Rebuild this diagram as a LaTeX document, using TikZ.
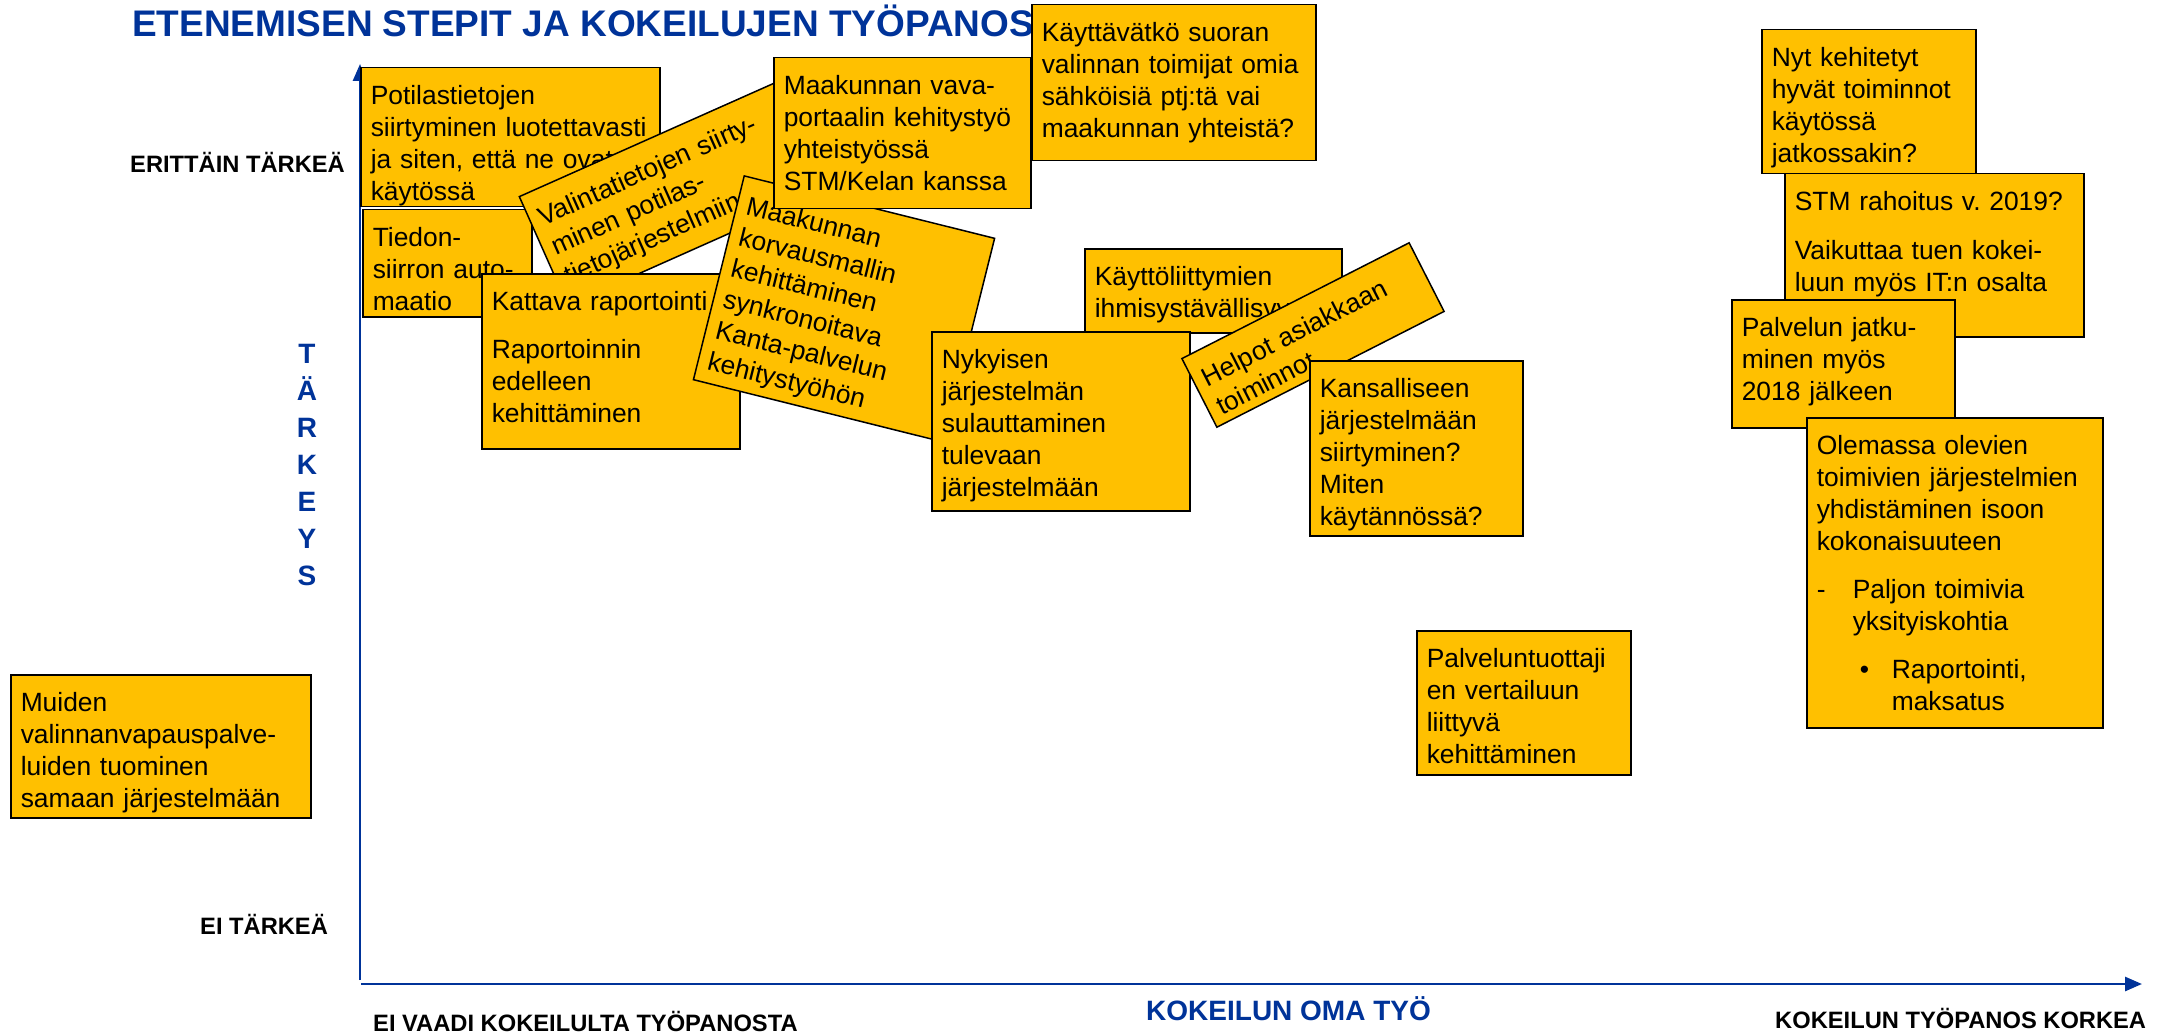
\documentclass[tikz,border=0pt]{standalone}
\usepackage{fontspec}
\setmainfont{Liberation Sans}
\usepackage{tikz}
\usetikzlibrary{arrows.meta}
\frenchspacing

\definecolor{cardorange}{RGB}{255,192,0}
\definecolor{axisblue}{RGB}{0,51,153}

\newcommand{\cardfont}{\fontsize{26.4}{32}\selectfont}
\newcommand{\polefont}{\fontsize{23.7}{28}\selectfont\bfseries}
\newcommand{\axisfont}{\fontsize{28}{34}\selectfont\bfseries}
\newcommand{\titlefont}{\fontsize{37}{44}\selectfont\bfseries}

\tikzset{
  card/.style={rectangle, draw=black, line width=1.5pt, fill=cardorange, inner xsep=10pt, inner ysep=0pt, text height=37pt, align=left, font=\cardfont},
  polelabel/.style={anchor=base west, inner sep=0pt, font=\polefont},
  axislabel/.style={anchor=base west, inner sep=0pt, text=axisblue, font=\axisfont},
  axisline/.style={draw=axisblue, line width=2.7pt},
}

\begin{document}
\begin{tikzpicture}[x=1pt, y=-1pt]
\useasboundingbox (0,0) rectangle (2162,1035);

% axes
\coordinate (yfoot) at (360,980);
\coordinate (ytip) at (360,64);
\coordinate (xfoot) at (361,984);
\coordinate (xtip) at (2142,984);
\begin{scope}[>={Triangle[length=17pt,width=14pt]}]
	\draw [axisline, ->] (yfoot) -- (ytip);
	\draw [axisline, ->] (xfoot) -- (xtip);
\end{scope}

\node at (132,37)[anchor=base west, inner sep=0pt, text=axisblue, font=\titlefont] (title) {ETENEMISEN STEPIT JA KOKEILUJEN TYÖPANOS};

\node at (130,173)[polelabel] (hightop) {ERITTÄIN TÄRKEÄ};
\node at (200,934)[polelabel] (lowtop) {EI TÄRKEÄ};
\node at (373,1031)[polelabel] (lowwork) {EI VAADI KOKEILULTA TYÖPANOSTA};
\node at (1775,1028)[polelabel] (highwork) {KOKEILUN TYÖPANOS KORKEA};
\node at (1146,1020)[axislabel] (ownwork) {KOKEILUN OMA TYÖ};
\foreach \c [count=\i] in {T,Ä,R,K,E,Y,S}
	\node at (307,326+37*\i)[axislabel, anchor=base] (tk\i) {\c};

% left cluster
\node at (360,67)[card, text width=279pt, text depth=102pt, anchor=north west] (potila) {Potilastietojen\\siirtyminen luotettavasti\\ja siten, että ne ovat\\käytössä};
\node at (362,209)[card, text width=149pt, text depth=70pt, anchor=north west] (tiedon) {Tiedon-\\siirron auto-\\maatio};
\node at (676,192)[card, text width=270pt, text depth=82pt, rotate=24] (valinta) {Valintatietojen siirty-\\minen potilas-\\tietojärjestelmiin};
\node at (481,273)[card, text width=238pt, text depth=138pt, anchor=north west] (kattava) {Kattava raportointi\\[16pt]Raportoinnin\\edelleen\\kehittäminen};
\node at (844,309)[card, text width=238pt, text depth=173pt, rotate=-14] (korvaus) {Maakunnan\\korvausmallin\\kehittäminen\\synkronoitava\\Kanta-palvelun\\kehitystyöhön};
\node at (773,57)[card, text width=237pt, text depth=114pt, anchor=north west] (vava) {Maakunnan vava-\\portaalin kehitystyö\\yhteistyössä\\STM/Kelan kanssa};
\node at (1031,4)[card, text width=264pt, text depth=119pt, anchor=north west] (kaytta) {Käyttävätkö suoran\\valinnan toimijat omia\\sähköisiä ptj:tä vai\\maakunnan yhteistä?};

% middle cluster
\node at (1084,248)[card, text width=237pt, text depth=47pt, anchor=north west] (kali) {Käyttöliittymien\\ihmisystävällisyys};
\node at (931,331)[card, text width=238pt, text depth=142pt, anchor=north west] (nykyi) {Nykyisen\\järjestelmän\\sulauttaminen\\tulevaan\\järjestelmään};
\node at (1313,335)[card, text width=235pt, text depth=40pt, rotate=27] (helpot) {Helpot asiakkaan\\toiminnot};
\node at (1309,360)[card, text width=193pt, text depth=138pt, anchor=north west] (kansa) {Kansalliseen\\järjestelmään\\siirtyminen?\\Miten\\käytännössä?};
\node at (1416,630)[card, text width=194pt, text depth=107pt, anchor=north west] (palvtuot) {Palveluntuottaji\\en vertailuun\\liittyvä\\kehittäminen};

% right column
\node at (1761,29)[card, text width=194pt, text depth=107pt, anchor=north west] (nyt) {Nyt kehitetyt\\hyvät toiminnot\\käytössä\\jatkossakin?};
\node at (1784,173)[card, text width=279pt, text depth=126pt, anchor=north west] (stm) {STM rahoitus v. 2019?\\[17pt]Vaikuttaa tuen kokei-\\luun myös IT:n osalta};
\node at (1731,299)[card, text width=203pt, text depth=91pt, anchor=north west] (palvjat) {Palvelun jatku-\\minen myös\\2018 jälkeen};
\node at (1806,417)[card, text width=276pt, text depth=273pt, anchor=north west] (olemassa) {Olemassa olevien\\toimivien järjestelmien\\yhdistäminen isoon\\kokonaisuuteen\\[16pt]\makebox[36pt][l]{-}Paljon toimivia\\\hspace*{36pt}yksityiskohtia\\[16pt]\hspace*{43pt}\makebox[32pt][l]{\textbullet}Raportointi,\\\hspace*{75pt}maksatus};

% far left
\node at (10,674)[card, text width=280pt, text depth=106pt, anchor=north west] (muiden) {Muiden\\valinnanvapauspalve-\\luiden tuominen\\samaan järjestelmään};

\end{tikzpicture}
\end{document}
